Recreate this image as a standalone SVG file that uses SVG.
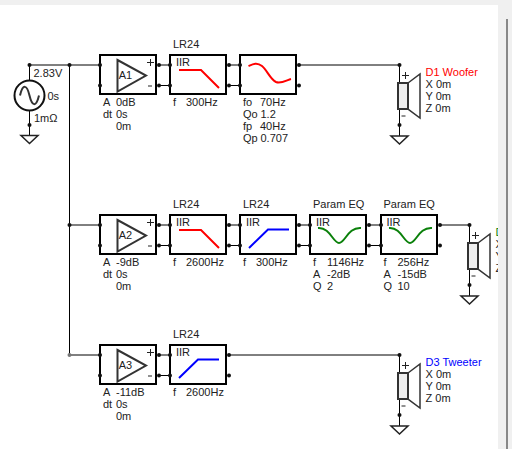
<svg xmlns="http://www.w3.org/2000/svg" width="512" height="449" viewBox="0 0 512 449">
<style>
text{font-family:"Liberation Sans",Arial,sans-serif;font-size:11px;fill:#222}
.w{fill:none;stroke:#000;stroke-width:1}
.b{fill:#fff;stroke:#000;stroke-width:2}
.c{fill:none;stroke-width:2}
.r{stroke:#f00}.bl{stroke:#00f}.g{stroke:#0a800a}
</style>
<defs>
<circle id="d" r="2" fill="#111"/>
<path id="gnd" d="M-8.500 0H8.500L0 8Z" fill="#fff" stroke="#222" stroke-width="1.500"/>
<g id="amp">
<rect class="b" x="100" y="0" width="56" height="39"/>
<path d="M117.500 5L146 20.500L117.500 36.500Z" fill="#fff" stroke="#333" stroke-width="2"/>
<path d="M147 7.500h7M150.500 4v7M148 31h4" stroke="#222" fill="none"/>
<use href="#d" x="100" y="10"/><use href="#d" x="100" y="30.500"/>
<use href="#d" x="159" y="10"/><use href="#d" x="159" y="30.500"/>
</g>
<g id="box">
<rect class="b" x="0" y="0" width="56" height="39"/>
<use href="#d" x="0" y="10"/><use href="#d" x="0" y="30.500"/>
<use href="#d" x="59" y="10"/><use href="#d" x="59" y="30.500"/>
</g>
<g id="spk">
<path d="M0 0V18M0 44V71" class="w"/>
<use href="#d" y="0"/><use href="#d" y="60"/>
<path d="M8.500 18L20.500 9V53L8.500 44Z" fill="#fff" stroke="#333" stroke-width="1.500"/>
<rect x="-1.500" y="18" width="10" height="26" fill="#eee" stroke="#333" stroke-width="2"/>
<path d="M2.500 10.500h7M6 7v7M2 51h4" stroke="#222" fill="none"/>
<use href="#gnd" y="71"/>
</g>
</defs>
<rect width="512" height="449" fill="#fff"/>

<g id="connectors">
<path class="w" d="M29.500 65H100M69.500 65V355M69.500 225H100M69.500 355H100M29.500 65V80M29.500 110V135"/>
<path class="w" d="M158 65H170M228 65H240M158 85.500H170M228 85.500H240"/>
<path class="w" d="M298 65H399.500"/>
<path class="w" d="M158 225H170M228 225H240M298 225H310M368 225H381M158 245.500H170M228 245.500H240M298 245.500H310M368 245.500H381"/>
<path class="w" d="M439 225H469.500"/>
<path class="w" d="M158 355H170M158 375.500H170M228 355H399.500"/>
<use href="#d" x="29.500" y="65"/><use href="#d" x="69.500" y="65"/><use href="#d" x="69.500" y="225"/><circle cx="69.500" cy="355" r="2" fill="#777"/>
</g>

<g id="source">
<circle cx="29.500" cy="95.500" r="15" fill="#fff" stroke="#111" stroke-width="2"/>
<path d="M20 95.500C23 83 27 85 29.500 95.500S36 108 39 95.500" fill="none" stroke="#333" stroke-width="2"/>
<use href="#d" x="29.500" y="125"/>
<use href="#gnd" x="29.500" y="135.500"/>
<text x="33.500" y="77">2.83V</text><text x="47.500" y="99.500">0s</text><text x="34" y="122">1mΩ</text>
</g>

<g id="A1" transform="translate(0,55)"><use href="#amp"/>
<text x="125.500" y="24" text-anchor="middle">A1</text>
<text x="103" y="51">A</text><text x="116" y="51">0dB</text><text x="103" y="63">dt</text><text x="116" y="63">0s</text><text x="116" y="75">0m</text></g>
<g id="F1" transform="translate(170,55)"><use href="#box"/>
<text x="3" y="-7">LR24</text><text x="6" y="11">IIR</text>
<path class="c r" d="M9 15H31L49 33"/><text x="3" y="51">f</text><text x="16" y="51">300Hz</text></g>
<g id="F2" transform="translate(240,55)"><use href="#box"/>
<path class="c r" d="M8.500 11C13 9 17 7 22 11S30 24 36 27C41 29 47 25 51 24"/>
<text x="3" y="51">fo</text><text x="20" y="51">70Hz</text><text x="3" y="63">Qo</text><text x="20.500" y="63">1.2</text><text x="3" y="75">fp</text><text x="20" y="75">40Hz</text><text x="3" y="87">Qp</text><text x="20.500" y="87">0.707</text></g>
<g id="D1" transform="translate(399.500,65)"><use href="#spk"/>
<text x="26" y="11" style="fill:#f00">D1 Woofer</text><text x="26" y="23">X 0m</text><text x="26" y="35">Y 0m</text><text x="26" y="47">Z 0m</text></g>

<g id="A2" transform="translate(0,215)"><use href="#amp"/>
<text x="125.500" y="24" text-anchor="middle">A2</text>
<text x="103" y="51">A</text><text x="116" y="51">-9dB</text><text x="103" y="63">dt</text><text x="116" y="63">0s</text><text x="116" y="75">0m</text></g>
<g id="F3" transform="translate(170,215)"><use href="#box"/>
<text x="3" y="-7">LR24</text><text x="6" y="11">IIR</text>
<path class="c r" d="M9 15H31L49 33"/><text x="3" y="51">f</text><text x="16" y="51">2600Hz</text></g>
<g id="F4" transform="translate(240,215)"><use href="#box"/>
<text x="3" y="-7">LR24</text><text x="6" y="11">IIR</text>
<path class="c bl" d="M9 33L28 14.500H49"/><text x="3" y="51">f</text><text x="16" y="51">300Hz</text></g>
<g id="F5" transform="translate(310,215)"><use href="#box"/>
<text x="3" y="-7">Param EQ</text><text x="6" y="11">IIR</text>
<path class="c g" d="M8 13C20 12 23 28 29 28S38 12 51 13"/>
<text x="3" y="51">f</text><text x="17" y="51">1146Hz</text><text x="3" y="63">A</text><text x="17" y="63">-2dB</text><text x="3" y="75">Q</text><text x="17" y="75">2</text></g>
<g id="F6" transform="translate(381,215)"><use href="#box"/>
<text x="2.500" y="-7">Param EQ</text><text x="5.500" y="11">IIR</text>
<path class="c g" d="M8 13C20 12 23 28 29 28S38 12 51 13"/>
<text x="2.500" y="51">f</text><text x="16.500" y="51">256Hz</text><text x="2.500" y="63">A</text><text x="16.500" y="63">-15dB</text><text x="2.500" y="75">Q</text><text x="16.500" y="75">10</text></g>
<g id="D2" transform="translate(469.500,225)"><use href="#spk"/>
<text x="26" y="11" style="fill:#0a800a">D</text><text x="26" y="23">X</text><text x="26" y="35">Y</text><text x="26" y="47">Z</text></g>

<g id="A3" transform="translate(0,345)"><use href="#amp"/>
<text x="125.500" y="24" text-anchor="middle">A3</text>
<text x="103" y="51">A</text><text x="116" y="51">-11dB</text><text x="103" y="63">dt</text><text x="116" y="63">0s</text><text x="116" y="75">0m</text></g>
<g id="F7" transform="translate(170,345)"><use href="#box"/>
<text x="3" y="-7">LR24</text><text x="6" y="11">IIR</text>
<path class="c bl" d="M9 33L28 14.500H49"/><text x="3" y="51">f</text><text x="16" y="51">2600Hz</text></g>
<g id="D3" transform="translate(399.500,355)"><use href="#spk"/>
<text x="26" y="11" style="fill:#00f">D3 Tweeter</text><text x="26" y="23">X 0m</text><text x="26" y="35">Y 0m</text><text x="26" y="47">Z 0m</text></g>

<g id="chrome">
<rect x="0" y="0" width="512" height="5" fill="#f0f0f0"/>
<rect x="498" y="0" width="14" height="449" fill="#f0f0f0"/>
<rect x="506" y="19" width="2" height="430" fill="#888"/>
</g>
</svg>
